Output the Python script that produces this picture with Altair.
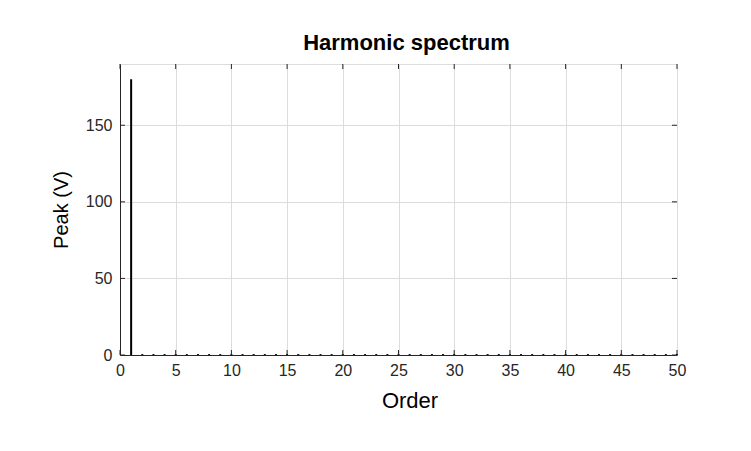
import altair as alt
import pandas as pd

orders = list(range(1, 51))
peaks = [180.0] + [0.6] * 49
x_ticks = list(range(0, 51, 5))
y_ticks = [0, 50, 100, 150]

W, H = 557, 291
FONT = "Liberation Sans"

df = pd.DataFrame({"order": orders, "peak": peaks})
xt = pd.DataFrame({"t": x_ticks})
yt = pd.DataFrame({"t": y_ticks})

xs = alt.Scale(domain=[0, 50], nice=False, zero=False)
ys = alt.Scale(domain=[0, 190], nice=False)

common = dict(labelFont=FONT, titleFont=FONT, labelFontSize=16,
              labelColor="#262626", titleColor="black", titleFontWeight="normal",
              gridColor="#dcdcdc", gridWidth=1, domainColor="#262626", domainWidth=1,
              grid=True, tickSize=0, labelFlush=False, labelOverlap=False)
xaxis = alt.Axis(values=x_ticks, title="Order", labelPadding=7, titlePadding=12,
                 titleFontSize=22, titleX=W / 2 + 11, **common)
yaxis = alt.Axis(values=y_ticks, title="Peak (V)", labelPadding=8, titlePadding=14,
                 titleFontSize=20, **common)

bars = alt.Chart(df).mark_rule(color="black", strokeWidth=2).encode(
    x=alt.X("order:Q", scale=xs, axis=xaxis),
    y=alt.Y("peak:Q", scale=ys, axis=yaxis),
    y2=alt.datum(0),
)

xbot = alt.Chart(xt).mark_rule(color="#262626", strokeWidth=1).encode(
    x=alt.X("t:Q", scale=xs, axis=xaxis), y=alt.value(H), y2=alt.value(H - 5))
xtop = alt.Chart(xt).mark_rule(color="#262626", strokeWidth=1).encode(
    x=alt.X("t:Q", scale=xs, axis=xaxis), y=alt.value(0), y2=alt.value(5))
yleft = alt.Chart(yt).mark_rule(color="#262626", strokeWidth=1).encode(
    y=alt.Y("t:Q", scale=ys, axis=yaxis), x=alt.value(0), x2=alt.value(5))
yright = alt.Chart(yt).mark_rule(color="#262626", strokeWidth=1).encode(
    y=alt.Y("t:Q", scale=ys, axis=yaxis), x=alt.value(W), x2=alt.value(W - 5))

chart = alt.layer(bars, xbot, xtop, yleft, yright).properties(
    width=W, height=H,
    title=alt.TitleParams("Harmonic spectrum", font=FONT, fontSize=22,
                          fontWeight="bold", color="black", offset=9, dx=8),
    autosize=alt.AutoSizeParams(type="none"),
    padding={"left": 112, "top": 56, "right": 60, "bottom": 80},
).configure_view(
    stroke="#262626", strokeWidth=1
).configure(background="white")

chart.save("out.html", embed_options={"renderer": "svg", "actions": False})
